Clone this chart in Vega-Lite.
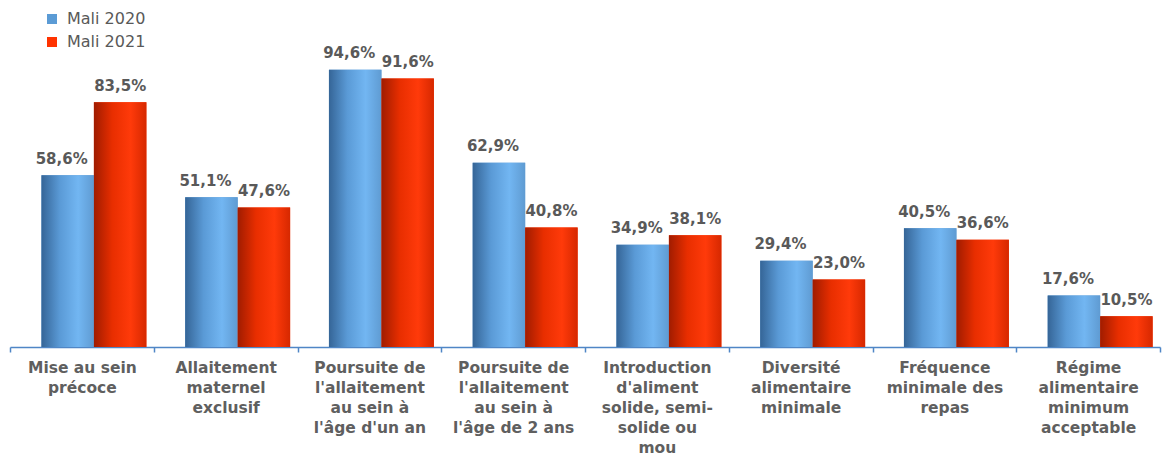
{
  "$schema": "https://vega.github.io/schema/vega-lite/v6.json",
  "width": 1150,
  "height": 293,
  "autosize": {"type": "none"},
  "padding": {"left": 10, "top": 54, "right": 6, "bottom": 108},
  "background": "white",
  "config": {
    "view": {"stroke": null},
    "locale": {"number": {"decimal": ",", "thousands": " ", "grouping": [3], "currency": ["", " €"]}}
  },
  "data": {
    "values": [
      {"cat": "Mise au sein|précoce", "series": "Mali 2020", "v": 0.586},
      {"cat": "Mise au sein|précoce", "series": "Mali 2021", "v": 0.835},
      {"cat": "Allaitement|maternel|exclusif", "series": "Mali 2020", "v": 0.511},
      {"cat": "Allaitement|maternel|exclusif", "series": "Mali 2021", "v": 0.476},
      {"cat": "Poursuite de|l'allaitement|au sein à|l'âge d'un an", "series": "Mali 2020", "v": 0.946},
      {"cat": "Poursuite de|l'allaitement|au sein à|l'âge d'un an", "series": "Mali 2021", "v": 0.916},
      {"cat": "Poursuite de|l'allaitement|au sein à|l'âge de 2 ans", "series": "Mali 2020", "v": 0.629},
      {"cat": "Poursuite de|l'allaitement|au sein à|l'âge de 2 ans", "series": "Mali 2021", "v": 0.408},
      {"cat": "Introduction|d'aliment|solide, semi-|solide ou|mou", "series": "Mali 2020", "v": 0.349},
      {"cat": "Introduction|d'aliment|solide, semi-|solide ou|mou", "series": "Mali 2021", "v": 0.381},
      {"cat": "Diversité|alimentaire|minimale", "series": "Mali 2020", "v": 0.294},
      {"cat": "Diversité|alimentaire|minimale", "series": "Mali 2021", "v": 0.230},
      {"cat": "Fréquence|minimale des|repas", "series": "Mali 2020", "v": 0.405},
      {"cat": "Fréquence|minimale des|repas", "series": "Mali 2021", "v": 0.366},
      {"cat": "Régime|alimentaire|minimum|acceptable", "series": "Mali 2020", "v": 0.176},
      {"cat": "Régime|alimentaire|minimum|acceptable", "series": "Mali 2021", "v": 0.105}
    ]
  },
  "encoding": {
    "x": {
      "field": "cat", "type": "nominal", "sort": null,
      "scale": {"paddingInner": 0, "paddingOuter": 0},
      "axis": {
        "title": null, "labelAngle": 0, "tickBand": "extent",
        "labelExpr": "datum.value ? split(datum.value, '|') : ''",
        "domainColor": "#4F86C6", "tickColor": "#4F86C6", "domainWidth": 1.5, "tickWidth": 1.5, "tickSize": 5,
        "labelFont": "DejaVu Sans", "labelFontSize": 15.5, "labelFontWeight": "bold", "labelColor": "#5f5f5f",
        "labelPadding": 8, "labelLineHeight": 20, "labelBaseline": "top", "labelLimit": 200
      }
    },
    "xOffset": {"field": "series", "type": "nominal", "scale": {"paddingOuter": 0.37, "paddingInner": 0, "align": 0.81}},
    "y": {"field": "v", "type": "quantitative", "scale": {"domain": [0, 1], "nice": false}, "axis": null}
  },
  "layer": [
    {
      "mark": {"type": "bar"},
      "encoding": {
        "color": {
          "field": "series", "type": "nominal",
          "scale": {"domain": ["Mali 2020", "Mali 2021"], "range": ["#5B9BD5", "#FF3300"]},
          "legend": {
            "title": null, "orient": "none", "legendX": 34, "legendY": -43,
            "symbolType": "square", "symbolSize": 100, "rowPadding": 7,
            "labelFont": "DejaVu Sans", "labelFontSize": 16, "labelColor": "#595959", "labelOffset": 7
          }
        }
      }
    },
    {
      "mark": {"type": "bar"},
      "encoding": {
        "color": {
          "condition": {
            "test": "datum.series === 'Mali 2020'",
            "value": {"gradient": "linear", "stops": [
              {"offset": 0, "color": "#356597"},
              {"offset": 0.35, "color": "#5A9AD6"},
              {"offset": 0.7, "color": "#72B6F2"},
              {"offset": 1, "color": "#5F9BD2"}
            ]}
          },
          "value": {"gradient": "linear", "stops": [
            {"offset": 0, "color": "#A01C00"},
            {"offset": 0.35, "color": "#E82E00"},
            {"offset": 0.7, "color": "#FF3A0A"},
            {"offset": 1, "color": "#D62800"}
          ]}
        }
      }
    },
    {
      "transform": [{"filter": "datum.series === 'Mali 2020'"}],
      "mark": {"type": "text", "dx": -6, "dy": -11.5, "baseline": "alphabetic", "font": "DejaVu Sans", "fontSize": 15, "fontWeight": "bold", "color": "#595959"},
      "encoding": {"text": {"field": "v", "type": "quantitative", "format": ".1%"}}
    },
    {
      "transform": [{"filter": "datum.series === 'Mali 2021'"}],
      "mark": {"type": "text", "dy": -11.5, "baseline": "alphabetic", "font": "DejaVu Sans", "fontSize": 15, "fontWeight": "bold", "color": "#595959"},
      "encoding": {"text": {"field": "v", "type": "quantitative", "format": ".1%"}}
    }
  ]
}
